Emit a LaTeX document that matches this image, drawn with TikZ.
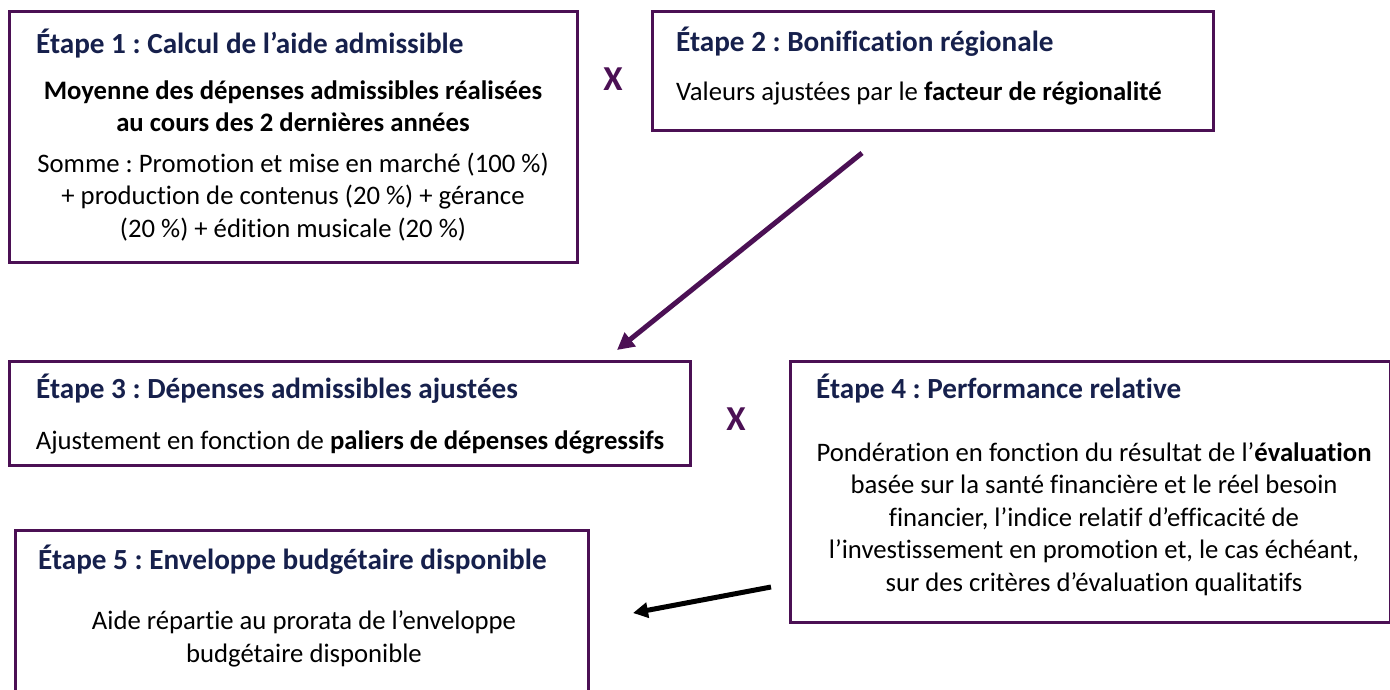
\documentclass[tikz,border=0pt]{standalone}
\usepackage{fontspec}
\setmainfont{Carlito}[Ligatures={NoCommon}]
\usetikzlibrary{arrows.meta}
\frenchspacing
\definecolor{boxpurple}{RGB}{75,16,84}
\definecolor{titlenavy}{RGB}{22,32,76}
\tikzset{
  stagebox/.style={draw=boxpurple, line width=3pt, rectangle, inner sep=0pt},
  stagetitle/.style={anchor=base west, inner sep=0pt, font=\fontsize{29.2}{33}\selectfont\bfseries, text=titlenavy},
  bodytext/.style={align=center, inner sep=0pt, font=\fontsize{26.7}{32.5}\selectfont, text=black},
  timesmark/.style={inner sep=0pt, font=\fontsize{35}{38}\selectfont\bfseries, text=boxpurple},
  flowarrow/.style={line width=5pt, -{Triangle[length=17pt,width=17pt]}}
}
\begin{document}
\begin{tikzpicture}[x=1pt,y=-1pt]
\useasboundingbox (0,0) rectangle (1390,689);
% boxes
\node[stagebox, minimum width=568pt, minimum height=251pt] (b1) at (293,136.5) {};
\node[stagebox, minimum width=561pt, minimum height=119pt] (b2) at (932.5,70.5) {};
\node[stagebox, minimum width=681pt, minimum height=104pt] (b3) at (349.5,413) {};
\node[stagebox, minimum width=600pt, minimum height=261pt] (b4) at (1090,491.5) {};
\node[stagebox, minimum width=573pt, minimum height=180pt] (b5) at (301.5,620) {};
% titles
\node[stagetitle] (t1) at (36,53) {Étape 1 : Calcul de l’aide admissible};
\node[stagetitle] (t2) at (676,51) {Étape 2 : Bonification régionale};
\node[stagetitle] (t3) at (36,398) {Étape 3 : Dépenses admissibles ajustées};
\node[stagetitle] (t4) at (816,398) {Étape 4 : Performance relative};
\node[stagetitle] (t5) at (38,569) {Étape 5 : Enveloppe budgétaire disponible};
% bodies
\node[bodytext, font=\fontsize{26.7}{32.5}\selectfont\bfseries] (m1) at (293,106) {Moyenne des dépenses admissibles réalisées\\au cours des 2 dernières années};
\node[bodytext] (s1) at (293,197) {Somme : Promotion et mise en marché (100 \%)\\+ production de contenus (20 \%) + gérance\\(20 \%) + édition musicale (20 \%)};
\node[bodytext, anchor=west] (s2) at (676,93) {Valeurs ajustées par le \textbf{facteur de régionalité}};
\node[bodytext] (s3) at (350,442) {Ajustement en fonction de \textbf{paliers de dépenses dégressifs}};
\node[bodytext] (s4) at (1094,519) {Pondération en fonction du résultat de l’\textbf{évaluation}\\basée sur la santé financière et le réel besoin\\financier, l’indice relatif d’efficacité de\\l’investissement en promotion et, le cas échéant,\\sur des critères d’évaluation qualitatifs};
\node[bodytext] (s5) at (304,639) {Aide répartie au prorata de l’enveloppe\\budgétaire disponible};
% multiplication marks
\node[timesmark] (x1) at (613,79) {X};
\node[timesmark] (x2) at (736,419) {X};
% arrows
\coordinate (a1s) at (862,153);
\coordinate (a1e) at (617,350);
\coordinate (a2s) at (771,587);
\coordinate (a2e) at (633,613);
\draw[flowarrow, boxpurple] (a1s) -- (a1e);
\draw[flowarrow, black, -{Triangle[length=15pt,width=15pt]}] (a2s) -- (a2e);
\end{tikzpicture}
\end{document}
